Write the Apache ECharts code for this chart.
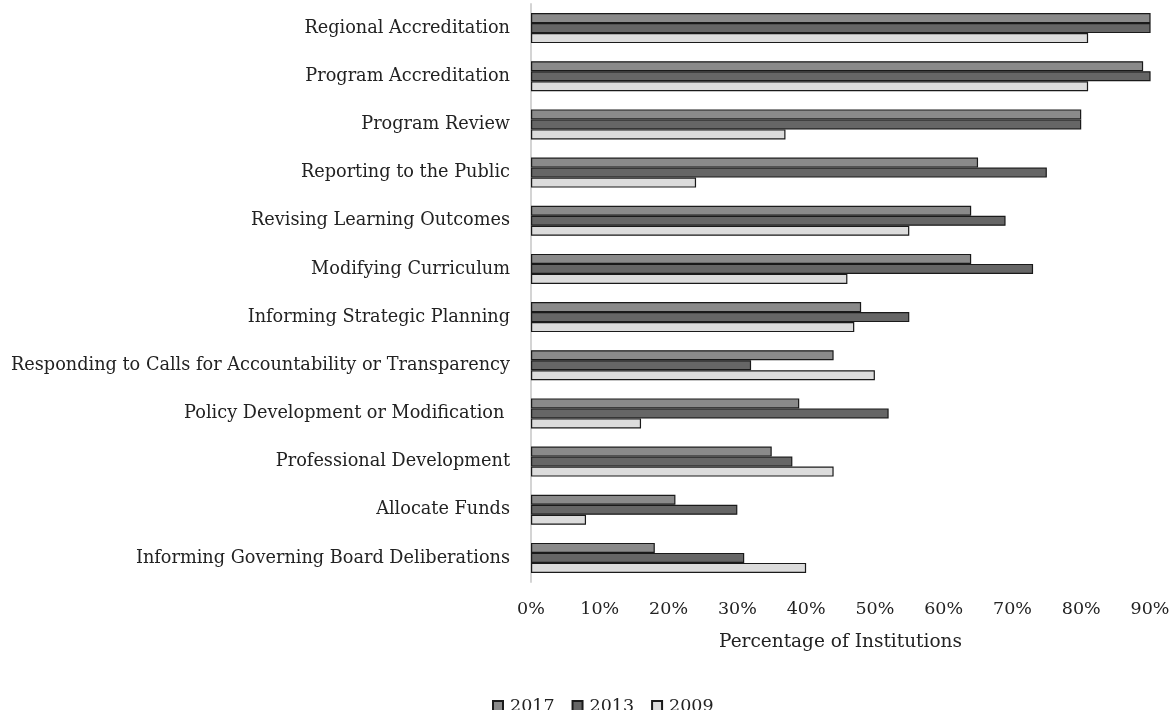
<!DOCTYPE html>
<html>
<head>
<meta charset="utf-8">
<script src="https://cdn.jsdelivr.net/npm/echarts@6/dist/echarts.min.js"></script>
<style>html,body{margin:0;padding:0;background:#fff;}#chart{width:1173px;height:710px;}</style>
</head>
<body>
<div id="chart"></div>
<script>
const categories = [
  "Regional Accreditation",
  "Program Accreditation",
  "Program Review",
  "Reporting to the Public",
  "Revising Learning Outcomes",
  "Modifying Curriculum",
  "Informing Strategic Planning",
  "Responding to Calls for Accountability or Transparency",
  "Policy Development or Modification ",
  "Professional Development",
  "Allocate Funds",
  "Informing Governing Board Deliberations"
];
const values2017 = [93, 89, 80, 65, 64, 64, 48, 44, 39, 35, 21, 18];
const values2013 = [93, 92, 80, 75, 69, 73, 55, 32, 52, 38, 30, 31];
const values2009 = [81, 81, 37, 24, 55, 46, 47, 50, 16, 44, 8, 40];
const xTicks = [0, 10, 20, 30, 40, 50, 60, 70, 80, 90];

const serif = "'DejaVu Serif', serif";
const chart = echarts.init(document.getElementById('chart'));
const mk = (name, data, color) => ({
  name, type: 'bar', data, barWidth: 10, barGap: '0%', clip: true,
  itemStyle: { color, borderColor: '#1a1a1a', borderWidth: 1.2 }
});
chart.setOption({
  animation: false,
  legend: {
    top: 692, left: 487, itemWidth: 10, itemHeight: 10, itemGap: 17, icon: 'rect',
    textStyle: { fontFamily: serif, fontSize: 17.5, color: '#222', padding: [0, 0, 0, 2] },
    data: ['2017', '2013', '2009']
  },
  grid: { left: 531, right: 23, top: 4, bottom: 128 },
  xAxis: {
    type: 'value', min: xTicks[0], max: xTicks[xTicks.length - 1], interval: 10,
    axisLine: { show: false }, axisTick: { show: false }, splitLine: { show: false },
    axisLabel: { formatter: '{value}%', fontFamily: serif, fontSize: 17.5, color: '#222', margin: 18 },
    name: 'Percentage of Institutions', nameLocation: 'middle', nameGap: 51,
    nameTextStyle: { fontFamily: serif, fontSize: 18.5, color: '#222' }
  },
  yAxis: {
    type: 'category', data: categories, inverse: true,
    axisLine: { show: true, lineStyle: { color: '#d4d4d4', width: 2 } },
    axisTick: { show: false },
    axisLabel: { fontFamily: serif, fontSize: 17.7, color: '#222', margin: 21 }
  },
  series: [
    mk('2017', values2017, '#8a8a8a'),
    mk('2013', values2013, '#666666'),
    mk('2009', values2009, '#dcdcdc')
  ]
});
</script>
</body>
</html>
